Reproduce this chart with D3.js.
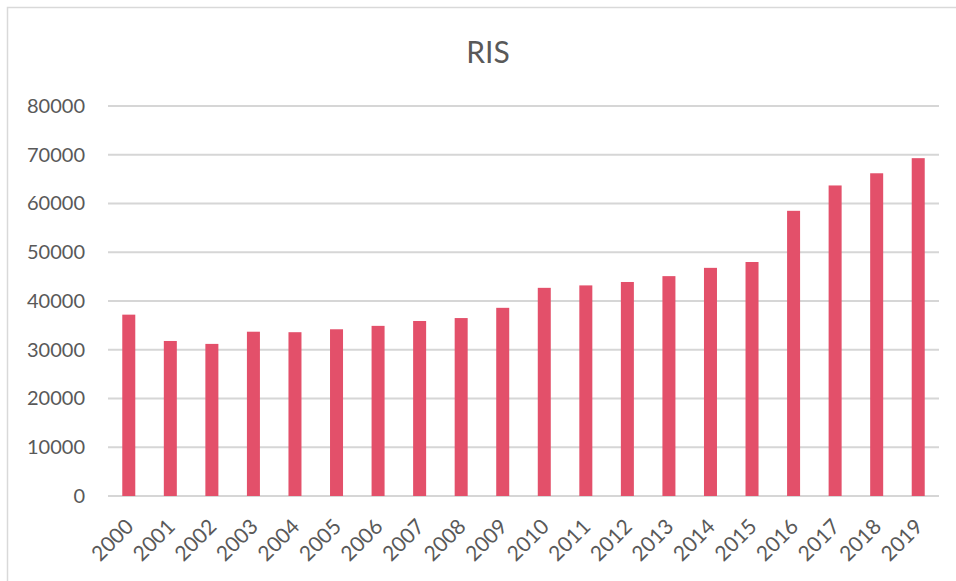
<!DOCTYPE html>
<html>
<head>
<meta charset="utf-8">
<script src="https://cdn.jsdelivr.net/npm/d3@7"></script>
<style>
  body { margin: 0; background: #fff; }
  svg { display: block; font-family: Lato, "Open Sans", sans-serif; }
</style>
</head>
<body>
<div id="chart"></div>
<script>
var years = ["2000", "2001", "2002", "2003", "2004", "2005", "2006", "2007", "2008", "2009",
             "2010", "2011", "2012", "2013", "2014", "2015", "2016", "2017", "2018", "2019"];
var values = [37200, 31800, 31200, 33700, 33600, 34200, 34900, 35900, 36500, 38600,
              42700, 43200, 43900, 45100, 46800, 48000, 58500, 63700, 66200, 69300];
var yTicks = [0, 10000, 20000, 30000, 40000, 50000, 60000, 70000, 80000];
var title = "RIS";

var W = 956, H = 581;
var margin = {top: 106, right: 17, bottom: 85, left: 108},
    width = W - margin.left - margin.right,
    height = H - margin.top - margin.bottom;

var svg = d3.select("#chart")
  .append("svg")
    .attr("width", W)
    .attr("height", H);

// outer chart frame (runs off the right and bottom edges)
svg.append("rect")
    .attr("x", 7.5)
    .attr("y", 7.5)
    .attr("width", W + 20)
    .attr("height", H + 20)
    .attr("fill", "#fff")
    .attr("stroke", "#d9d9d9")
    .attr("stroke-width", 1.5);

svg.append("text")
    .attr("x", 488)
    .attr("y", 63)
    .attr("text-anchor", "middle")
    .attr("fill", "#595959")
    .attr("font-size", 30)
    .text(title);

var g = svg.append("g")
    .attr("transform", "translate(" + margin.left + "," + margin.top + ")");

var x = d3.scaleBand()
    .domain(years)
    .range([0, width])
    .paddingInner(0.687)
    .paddingOuter(0.3435);

var y = d3.scaleLinear()
    .domain([0, 80000])
    .range([height, 0]);

// gridlines
g.append("g")
  .selectAll("line")
  .data(yTicks)
  .join("line")
    .attr("x1", 0)
    .attr("x2", width)
    .attr("y1", function(d) { return y(d); })
    .attr("y2", function(d) { return y(d); })
    .attr("stroke", "#d6d6d6")
    .attr("stroke-width", 1.8);

// y axis labels
var yAxis = g.append("g")
    .call(d3.axisLeft(y).tickValues(yTicks).tickSize(0).tickPadding(23).tickFormat(d3.format("d")));
yAxis.select(".domain").remove();
yAxis.selectAll("text")
    .attr("fill", "#595959")
    .attr("font-size", 20)
    .attr("font-family", "Lato, 'Open Sans', sans-serif");

// bars
g.append("g")
  .selectAll("rect")
  .data(values)
  .join("rect")
    .attr("x", function(d, i) { return x(years[i]); })
    .attr("y", function(d) { return y(d); })
    .attr("width", x.bandwidth())
    .attr("height", function(d) { return height - y(d); })
    .attr("fill", "#e3506a");

// x axis labels, rotated
var xAxis = g.append("g")
    .attr("transform", "translate(0," + height + ")")
    .call(d3.axisBottom(x).tickSize(0).tickPadding(0));
xAxis.select(".domain").remove();
xAxis.selectAll("text")
    .attr("fill", "#595959")
    .attr("font-size", 21)
    .attr("font-family", "Lato, 'Open Sans', sans-serif")
    .attr("text-anchor", "end")
    .attr("dy", null)
    .attr("y", 0)
    .attr("transform", "translate(6,32) rotate(-45)");
</script>
</body>
</html>
